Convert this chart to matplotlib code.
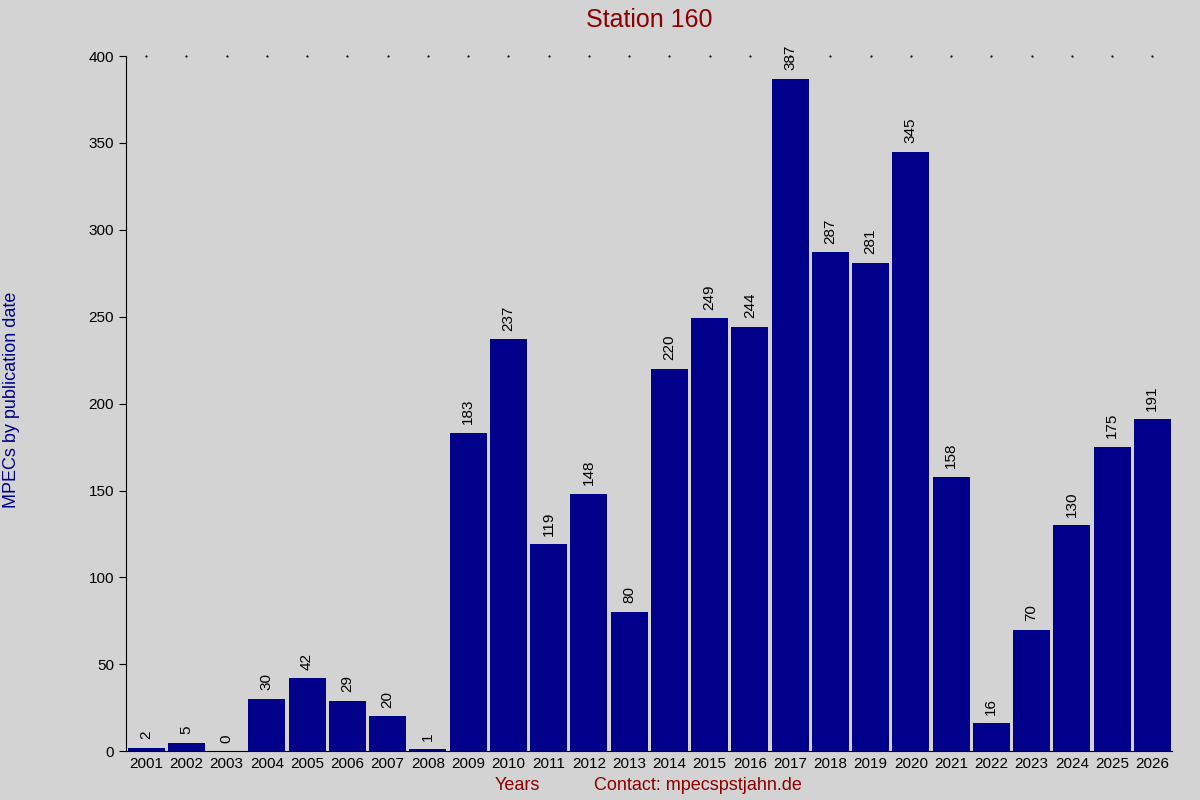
import matplotlib
matplotlib.use("Agg")
import matplotlib.pyplot as plt

years = [str(y) for y in range(2001, 2027)]
values = [2, 5, 0, 30, 42, 29, 20, 1, 183, 237, 119, 148, 80, 220, 249, 244,
          387, 287, 281, 345, 158, 16, 70, 130, 175, 191]

plt.rcParams['font.family'] = ['Liberation Sans', 'DejaVu Sans']
fig = plt.figure(figsize=(12, 8), dpi=100, facecolor='#d3d3d3')
ax = fig.add_axes([0.105, 0.061, 0.872, 0.869], facecolor='#d3d3d3')
x = list(range(len(years)))
ax.bar(x, values, width=0.92, color='#00008b')
for xi, v in zip(x, values):
    ax.text(xi, v + 5, str(v), rotation=90, ha='center', va='bottom', fontsize=11, color='black')
ax.set_xlim(-0.5, len(years) - 0.5)
ax.set_ylim(0, 400)
ax.set_yticks(range(0, 401, 50))
ax.set_xticks(x)
ax.set_xticklabels(years, fontsize=11)
ax.tick_params(axis='y', labelsize=11, length=5)
ax.tick_params(axis='x', length=0, pad=4)
for s in ['top', 'right']:
    ax.spines[s].set_visible(False)
ax.scatter(x, [400] * len(x), s=0.3, color='black', clip_on=False)
fig.text(0.01, 0.5, 'MPECs by publication date', rotation=90, ha='center', va='center',
         color='#00008b', fontsize=13)
fig.text(0.541, 0.975, 'Station 160', ha='center', va='center', fontsize=18, color='#8b0000')
fig.text(0.431, 0.018, 'Years', ha='center', va='center', fontsize=13, color='#8b0000')
fig.text(0.582, 0.018, 'Contact: mpecspstjahn.de', ha='center', va='center', fontsize=13, color='#8b0000')
fig.savefig('out.png', dpi=100, facecolor='#d3d3d3')
